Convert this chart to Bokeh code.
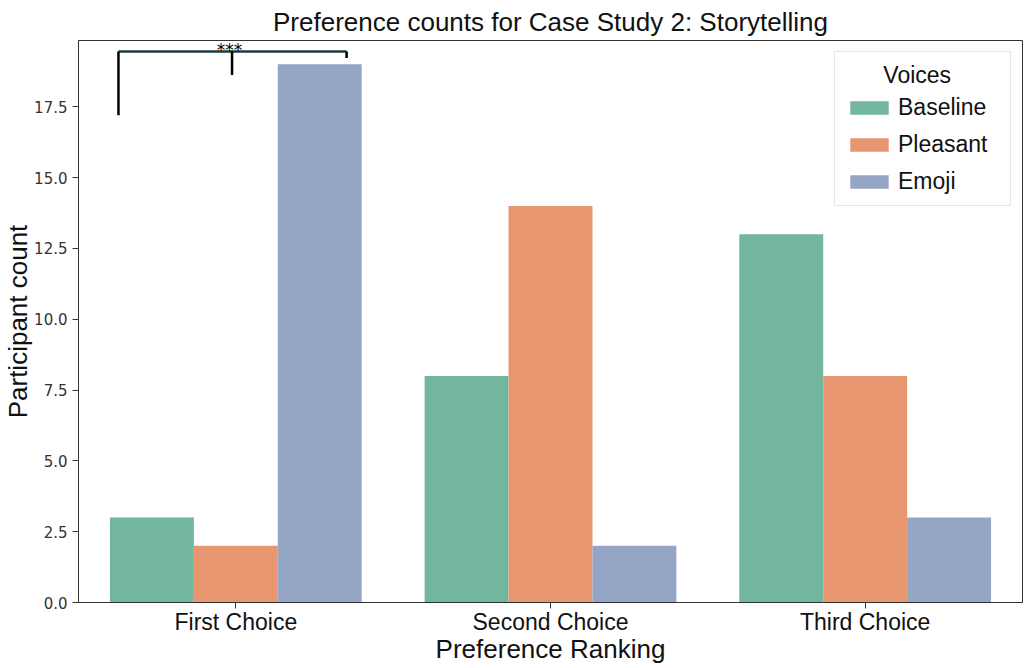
from bokeh.plotting import figure
from bokeh.models import Range1d, FixedTicker, Legend, LegendItem, Label
from bokeh.embed import file_html
from bokeh.resources import INLINE

categories = ["First Choice", "Second Choice", "Third Choice"]
voices = ["Baseline", "Pleasant", "Emoji"]
baseline = [3, 8, 13]
pleasant = [2, 14, 8]
emoji = [19, 2, 3]
colors = ["#73b6a0", "#e8966f", "#94a5c5"]

# significance annotation (First Choice)
sig_text = "***"
sig_x = [-0.373, -0.012, 0.352]
sig_top = 19.45
sig_bottoms = [17.2, 18.62, 19.22]

p = figure(frame_width=944, frame_height=562,
           x_range=Range1d(-0.5, 2.5), y_range=Range1d(0, 19.84),
           output_backend="svg", toolbar_location=None,
           title="Preference counts for Case Study 2: Storytelling",
           min_border_left=0, min_border_right=3, min_border_top=0, min_border_bottom=0)

p.title.align = "center"
p.title.text_font = "Liberation Sans"
p.title.text_font_size = "26px"
p.title.text_font_style = "normal"
p.title.text_color = "#111111"
p.title.standoff = 8

width = 0.8 / 3
series = [baseline, pleasant, emoji]
renderers = []
for j, (name, vals) in enumerate(zip(voices, series)):
    xs = [i + (j - 1) * width for i in range(len(categories))]
    r = p.vbar(x=xs, top=vals, width=width, bottom=0, fill_color=colors[j], line_color=None)
    renderers.append(r)

# bracket
p.line(x=[sig_x[0], sig_x[2]], y=[sig_top, sig_top], line_color="#1e3b3f", line_width=2.5)
for xv, yb in zip(sig_x, sig_bottoms):
    p.line(x=[xv, xv], y=[yb, sig_top], line_color="black", line_width=2.5)
p.add_layout(Label(x=(sig_x[0] + sig_x[2]) / 2 - 0.01, y=19.52, text=sig_text,
                   text_align="center", text_baseline="alphabetic", text_font="DejaVu Sans",
                   text_font_size="17px", text_color="black"))

legend = Legend(items=[LegendItem(label=v, renderers=[r]) for v, r in zip(voices, renderers)],
                location="top_right", title="\u00a0" * 6 + "Voices")
legend.title_text_font = "Liberation Sans"
legend.title_text_font_size = "23px"
legend.title_text_font_style = "normal"
legend.title_text_color = "#111111"
legend.title_standoff = 5
legend.label_text_font = "Liberation Sans"
legend.label_text_font_size = "23px"
legend.label_text_color = "#111111"
legend.label_standoff = 5
legend.label_width = 102
legend.glyph_width = 48
legend.glyph_height = 17
legend.label_height = 27
legend.spacing = 10
legend.padding = 10
legend.margin = 11
legend.border_line_color = "#cccccc"
legend.border_line_width = 1
legend.background_fill_alpha = 1
p.add_layout(legend)

p.xaxis.ticker = FixedTicker(ticks=[0, 1, 2])
p.xaxis.major_label_overrides = {i: c for i, c in enumerate(categories)}
p.yaxis.ticker = FixedTicker(ticks=[0, 2.5, 5, 7.5, 10, 12.5, 15, 17.5])
p.yaxis.major_label_overrides = {0: "0.0", 2.5: "2.5", 5: "5.0", 7.5: "7.5", 10: "10.0",
                                 12.5: "12.5", 15: "15.0", 17.5: "17.5"}

p.xaxis.axis_label = "Preference Ranking"
p.yaxis.axis_label = "Participant count"
for ax in [p.xaxis[0], p.yaxis[0]]:
    ax.axis_label_text_font = "Liberation Sans"
    ax.axis_label_text_font_size = "26px"
    ax.axis_label_text_font_style = "normal"
    ax.axis_label_text_color = "#111111"
    ax.minor_tick_line_color = None
    ax.major_tick_in = 0
    ax.major_tick_out = 6
    ax.major_tick_line_color = "#333333"
    ax.axis_line_color = "#333333"
p.xaxis.major_label_text_font = "Liberation Sans"
p.xaxis.major_label_text_font_size = "23px"
p.xaxis.major_label_text_color = "#111111"
p.xaxis.major_label_standoff = 0
p.xaxis.axis_label_standoff = -4
p.yaxis.major_label_text_font = "DejaVu Sans"
p.yaxis.major_label_text_font_size = "15px"
p.yaxis.major_label_text_color = "#333333"
p.yaxis.major_label_standoff = 5
p.yaxis.axis_label_standoff = -2

p.xgrid.grid_line_color = None
p.ygrid.grid_line_color = None
p.outline_line_color = "#333333"
p.outline_line_width = 1

open("out.html", "w").write(file_html(p, INLINE))
